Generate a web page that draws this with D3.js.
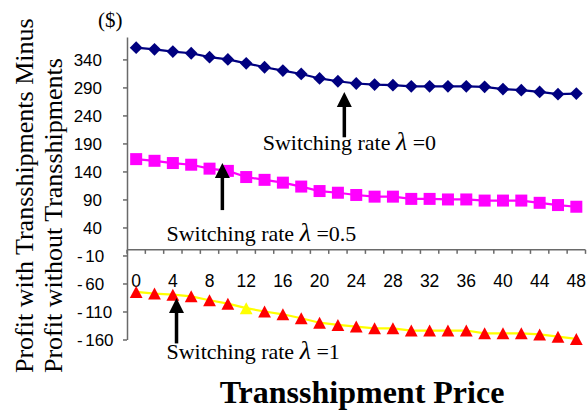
<!DOCTYPE html>
<html>
<head>
<meta charset="utf-8">
<script src="https://cdn.jsdelivr.net/npm/d3@7/dist/d3.min.js"></script>
<style>
  html, body { margin: 0; padding: 0; background: #fff; }
  svg { display: block; }
</style>
</head>
<body>
<svg id="chart" width="587" height="411"></svg>
<script>
// Transshipment price (x categories)
const prices = [0, 2, 4, 6, 8, 10, 12, 14, 16, 18, 20, 22, 24, 26, 28, 30, 32, 34, 36, 38, 40, 42, 44, 46, 48];
const priceLabels = [0, 4, 8, 12, 16, 20, 24, 28, 32, 36, 40, 44, 48];

// Profit difference ($) for each switching rate
const lambda0 = [361, 358, 354, 351, 344, 340, 333, 326, 320, 314, 306, 301, 297, 295, 294, 292, 292, 292, 292, 291, 287, 285, 282, 278, 279];
const lambdaHalf = [162, 159, 155, 152, 145, 141, 130, 125, 120, 113, 105, 102, 98, 95, 95, 91, 91, 90, 90, 88, 88, 88, 84, 80, 77];
const lambda1 = [-75, -78, -80, -83, -90, -96, -104, -110, -115, -122, -130, -134, -137, -140, -140, -144, -144, -144, -144, -149, -149, -149, -151, -155, -159];
const highlightedPrice = 12;

const yTicks = [-160, -110, -60, -10, 40, 90, 140, 190, 240, 290, 340];
const yDomain = [-160, 380];

// Annotation labels and arrows, in data units (price, $)
const annotations = [
  { rate: "0",   textX: 13.8, textY: 178, arrowX: 22.7, arrowTop: 282, arrowBottom: 201 },
  { rate: "0.5", textX: 3.3,  textY: 15,  arrowX: 9.4,  arrowTop: 155, arrowBottom: 71 },
  { rate: "1",   textX: 3.3,  textY: -194, arrowX: 4.4, arrowTop: -86, arrowBottom: -167 }
];

const svg = d3.select("#chart");
const plotLeft = 127, plotRight = 585.5, plotTop = 37, plotBottom = 339.5;

const x = d3.scaleBand().domain(prices).range([plotLeft, plotRight]).paddingInner(0).paddingOuter(0);
const xc = d => x(d) + x.bandwidth() / 2;
// continuous price position for annotations
const xp = d3.scaleLinear().domain([0, 48]).range([xc(0), xc(48)]);
const y = d3.scaleLinear().domain(yDomain).range([plotBottom, plotTop]);

const axisColor = "#6a6a6a";
const sans = "'Liberation Sans', Arial, sans-serif";
const serif = "'Liberation Serif', 'Times New Roman', serif";

// Y axis
const yAxis = svg.append("g")
  .attr("transform", `translate(${plotLeft},0)`)
  .call(d3.axisLeft(y).tickValues(yTicks).tickSize(4).tickSizeOuter(0).tickPadding(21).tickFormat(d => String(d)));
yAxis.select(".domain").attr("stroke", axisColor).attr("stroke-width", 1.5);
yAxis.selectAll(".tick line").attr("stroke", axisColor).attr("stroke-width", 1.5);
yAxis.selectAll(".tick text")
  .attr("font-family", sans).attr("font-size", 17).attr("fill", "#000").attr("dy", "0.36em")
  .each(function (d) {
    // negative labels: hyphen set off on the left, digits after it
    if (d < 0) {
      const t = d3.select(this).text(null).attr("text-anchor", "start").attr("x", -50);
      t.append("tspan").text("-");
      t.append("tspan").attr("dx", 2.5).text(String(-d));
    }
  });

// X axis crossing at zero
const x0 = y(0);
svg.append("line")
  .attr("x1", plotLeft).attr("x2", plotRight).attr("y1", x0).attr("y2", x0)
  .attr("stroke", axisColor).attr("stroke-width", 1.5);
const boundaries = prices.map(p => x(p)).concat([plotRight]);
svg.append("g").selectAll("line").data(boundaries).join("line")
  .attr("x1", d => d).attr("x2", d => d)
  .attr("y1", x0).attr("y2", x0 + 4)
  .attr("stroke", axisColor).attr("stroke-width", 1.5);
svg.append("g").selectAll("text").data(priceLabels).join("text")
  .attr("x", d => xc(d)).attr("y", x0 + 37)
  .attr("text-anchor", "middle")
  .attr("font-family", sans).attr("font-size", 17.5).attr("fill", "#000")
  .text(d => d);

// Series lines
const line = vals => d3.line().x((d, i) => xc(prices[i])).y(d => y(d))(vals);
svg.append("path").attr("d", line(lambda0)).attr("fill", "none").attr("stroke", "#000080").attr("stroke-width", 2.2);
svg.append("path").attr("d", line(lambdaHalf)).attr("fill", "none").attr("stroke", "#FF00FF").attr("stroke-width", 2.2);
svg.append("path").attr("d", line(lambda1)).attr("fill", "none").attr("stroke", "#FFFF00").attr("stroke-width", 2.2);

// Markers
const diamond = "M0,-6.4L6.4,0L0,6.4L-6.4,0Z";
const square = "M-6,-6H6V6H-6Z";
const triangle = "M0,-6L6.4,6L-6.4,6Z";

svg.append("g").selectAll("path").data(lambda0).join("path")
  .attr("d", diamond)
  .attr("transform", (d, i) => `translate(${xc(prices[i])},${y(d)})`)
  .attr("fill", "#000080");
svg.append("g").selectAll("path").data(lambdaHalf).join("path")
  .attr("d", square)
  .attr("transform", (d, i) => `translate(${xc(prices[i])},${y(d)})`)
  .attr("fill", "#FF00FF");
svg.append("g").selectAll("path").data(lambda1).join("path")
  .attr("d", triangle)
  .attr("transform", (d, i) => `translate(${xc(prices[i])},${y(d)})`)
  .attr("fill", (d, i) => prices[i] === highlightedPrice ? "#FFFF00" : "#FF0000");

// Annotations: arrows and labels
annotations.forEach(a => {
  const ax = xp(a.arrowX), ty = y(a.arrowTop), by = y(a.arrowBottom);
  svg.append("line").attr("x1", ax).attr("x2", ax).attr("y1", ty + 12).attr("y2", by)
    .attr("stroke", "#000").attr("stroke-width", 3.5);
  svg.append("path")
    .attr("d", `M${ax},${ty}L${ax + 7.5},${ty + 15}L${ax - 7.5},${ty + 15}Z`)
    .attr("fill", "#000");
  const t = svg.append("text")
    .attr("x", xp(a.textX)).attr("y", y(a.textY))
    .attr("font-family", serif).attr("font-size", 22).attr("fill", "#000");
  t.append("tspan").text("Switching rate ");
  t.append("tspan").attr("font-style", "italic").attr("font-size", 26).text("λ");
  t.append("tspan").text(" =" + a.rate);
});

// Unit label
svg.append("text").attr("x", plotLeft - 29).attr("y", 27)
  .attr("font-family", serif).attr("font-size", 21).attr("fill", "#000").text("($)");

// Y axis title (two lines)
const yTitle = svg.append("g").attr("transform", "translate(0,373) rotate(-90)");
yTitle.append("text").attr("x", 0).attr("y", 33)
  .attr("font-family", serif).attr("font-size", 26).attr("fill", "#000")
  .text("Profit with Transshipments Minus");
yTitle.append("text").attr("x", 0).attr("y", 62)
  .attr("font-family", serif).attr("font-size", 26).attr("fill", "#000")
  .text("Profit without Transshipments");

// X axis title
svg.append("text").attr("x", 362).attr("y", 403)
  .attr("text-anchor", "middle")
  .attr("font-family", serif).attr("font-weight", "bold").attr("font-size", 32).attr("fill", "#000")
  .text("Transshipment Price");
</script>
</body>
</html>
